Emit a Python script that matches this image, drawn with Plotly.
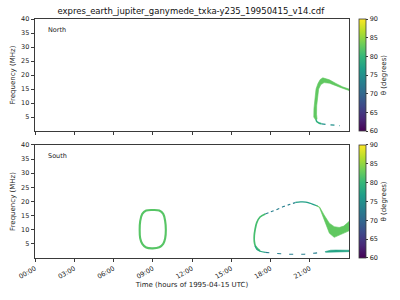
import plotly.graph_objects as go
from plotly.colors import sample_colorscale

# ---------------- data (hours of day, frequency MHz, theta degrees) ----------------
title = "expres_earth_jupiter_ganymede_txka-y235_19950415_v14.cdf"
tick_hours = [0, 3, 6, 9, 12, 15, 18, 21]
tick_labels = ["00:00", "03:00", "06:00", "09:00", "12:00", "15:00", "18:00", "21:00"]
freq_ticks = [5, 10, 15, 20, 25, 30, 35, 40]
theta_ticks = [60, 65, 70, 75, 80, 85, 90]

# North hemisphere: thick arc (band outline: outer edge then inner edge)
north_band_t = [21.45, 21.31, 21.32, 21.36, 21.48, 21.63, 21.8, 22.0, 22.5, 23.0, 23.5, 24.0,
                24.0, 23.5, 23.0, 22.5, 22.1, 21.85, 21.68, 21.58, 21.53, 21.52, 21.56]
north_band_f = [4.0, 5.0, 8.0, 10.0, 15.0, 17.0, 18.4, 19.0, 18.3, 17.0, 15.8, 15.0,
                14.5, 15.3, 16.2, 17.1, 17.3, 16.6, 15.0, 12.0, 9.0, 6.0, 4.2]
north_band_theta = 82.5
north_tail_t = [21.48, 21.55, 21.7, 21.9]
north_tail_f = [4.2, 3.3, 2.9, 2.6]
north_tail_theta = 79
north_dash_t = [21.9, 22.4, 22.9, 23.3]
north_dash_f = [2.6, 2.3, 2.1, 1.95]
north_dash_theta = 75

# South hemisphere: closed oval around 09:00
south_oval_t = [8.0, 8.04, 8.2, 8.5, 9.0, 9.5, 9.8, 9.95, 10.0, 9.95, 9.8, 9.5, 9.0, 8.5, 8.2, 8.04, 8.0]
south_oval_f = [10.0, 13.0, 15.6, 16.8, 17.0, 16.8, 15.6, 13.0, 10.0, 7.0, 5.0, 3.8, 3.4, 3.7, 5.0, 7.0, 10.0]
south_oval_theta = 82

# South hemisphere: evening arc
south_left_t = [17.2, 16.84, 16.76, 16.76, 16.82, 16.95, 17.2, 17.6]
south_left_f = [2.5, 4.3, 6.0, 8.0, 10.0, 12.5, 14.5, 15.6]
south_left_theta = 81
south_rise_t = [17.6, 18.0, 18.5, 19.0, 19.5, 19.9]
south_rise_f = [15.6, 16.3, 17.2, 18.2, 19.0, 19.6]
south_rise_theta = 73
south_top_t = [19.9, 20.3, 20.7, 21.0, 21.3, 21.6]
south_top_f = [19.7, 19.85, 19.8, 19.4, 18.9, 18.4]
south_top_theta = 77
south_band_t = [21.5, 21.76, 22.1, 22.5, 22.87, 23.25, 23.6, 24.0,
                24.0, 23.6, 23.25, 22.87, 22.5, 22.25, 22.0, 21.74, 21.5]
south_band_f = [18.6, 18.0, 15.2, 12.3, 11.1, 10.8, 11.3, 12.9,
                9.6, 8.8, 8.2, 7.3, 8.8, 11.7, 15.2, 17.9, 18.5]
south_band_theta = 82.5
south_curl_t = [16.82, 16.95, 17.2, 17.6]
south_curl_f = [4.3, 3.1, 2.4, 2.0]
south_curl_theta = 78
south_bottom_t = [17.6, 18.2, 18.8, 19.4, 20.0, 20.6, 21.1, 21.6, 22.2]
south_bottom_f = [2.0, 1.7, 1.5, 1.35, 1.3, 1.35, 1.6, 1.85, 2.3]
south_bottom_theta = 73
south_low_band_t = [22.2, 22.6, 23.0, 23.5, 24.0, 24.0, 23.5, 23.0, 22.6, 22.2]
south_low_band_f = [2.3, 2.75, 2.8, 2.8, 2.75, 2.25, 2.25, 2.25, 2.2, 2.0]
south_low_band_theta = 77.5

THETA_MIN, THETA_MAX = 60, 90


def col(theta):
    return sample_colorscale("Viridis", [(theta - THETA_MIN) / (THETA_MAX - THETA_MIN)])[0]


fig = go.Figure()


def band(t, f, theta, row):
    fig.add_trace(go.Scatter(x=t, y=f, mode="lines", fill="toself", fillcolor=col(theta),
                             line=dict(width=0.6, color=col(theta)), hoverinfo="skip",
                             showlegend=False, xaxis="x" if row == 1 else "x2",
                             yaxis="y" if row == 1 else "y2"))


def curve(t, f, theta, row, width=1.5, dash="solid"):
    fig.add_trace(go.Scatter(x=t, y=f, mode="lines",
                             line=dict(width=width, color=col(theta), dash=dash, shape="spline"),
                             hoverinfo="skip", showlegend=False,
                             xaxis="x" if row == 1 else "x2", yaxis="y" if row == 1 else "y2"))


# North
band(north_band_t, north_band_f, north_band_theta, 1)
curve(north_tail_t, north_tail_f, north_tail_theta, 1, width=1.6)
curve(north_dash_t, north_dash_f, north_dash_theta, 1, width=1.2, dash="4px,5px")

# South
curve(south_oval_t, south_oval_f, south_oval_theta, 2, width=2.1)
curve(south_left_t, south_left_f, south_left_theta, 2, width=1.7)
curve(south_rise_t, south_rise_f, south_rise_theta, 2, width=1.1, dash="3px,3px")
curve(south_top_t, south_top_f, south_top_theta, 2, width=1.2)
band(south_band_t, south_band_f, south_band_theta, 2)
curve(south_curl_t, south_curl_f, south_curl_theta, 2, width=1.2)
curve(south_bottom_t, south_bottom_f, south_bottom_theta, 2, width=1.1, dash="4px,8px")
band(south_low_band_t, south_low_band_f, south_low_band_theta, 2)

# colour bars (invisible carriers)
for ax, ca, ya in (("x", "coloraxis", "y"), ("x2", "coloraxis2", "y2")):
    fig.add_trace(go.Scatter(x=[1, 2], y=[-50, -50], mode="markers",
                             marker=dict(color=[THETA_MIN, THETA_MAX], coloraxis=ca, size=1),
                             hoverinfo="skip", showlegend=False, xaxis=ax, yaxis=ya))

axis_line = "#3a3a3a"
tickfont = dict(family="DejaVu Sans", size=6.5, color="#222")
top_dom = [0.531, 1.0]
bot_dom = [0.0, 0.473]

common_x = dict(range=[0, 24], tickvals=tick_hours, showline=True, linecolor=axis_line, linewidth=0.8,
                mirror=True, ticks="outside", ticklen=3.5, tickwidth=0.8, tickcolor=axis_line,
                showgrid=False, zeroline=False, tickfont=tickfont)
common_y = dict(range=[0, 40], tickvals=freq_ticks, showline=True, linecolor=axis_line, linewidth=0.8,
                mirror=True, ticks="outside", ticklen=3.5, tickwidth=0.8, tickcolor=axis_line,
                showgrid=False, zeroline=False, tickfont=tickfont,
                title=dict(text="Frequency (MHz)", font=dict(family="DejaVu Sans", size=7, color="#222"),
                           standoff=4))

cb_common = dict(thickness=7, thicknessmode="pixels", lenmode="fraction", xanchor="left",
                 x=1.031, yanchor="middle", xpad=0, ypad=0, outlinewidth=0.8, outlinecolor=axis_line,
                 tickvals=theta_ticks, ticks="outside", ticklen=2.5, tickwidth=0.8, tickcolor=axis_line,
                 tickfont=tickfont,
                 title=dict(text="θ (degrees)", side="right",
                            font=dict(family="DejaVu Sans", size=7, color="#222")))

fig.update_layout(
    width=400, height=300,
    margin=dict(l=32, r=50, t=19, b=38),
    paper_bgcolor="white", plot_bgcolor="white",
    title=dict(text=title, x=0.477, xanchor="center", y=0.963, yanchor="middle",
               font=dict(family="DejaVu Sans", size=8.5, color="#111")),
    xaxis=dict(domain=[0, 1], anchor="y", showticklabels=False, **common_x),
    yaxis=dict(domain=top_dom, anchor="x", **common_y),
    xaxis2=dict(domain=[0, 1], anchor="y2", ticktext=tick_labels, tickangle=-30,
                title=dict(text="Time (hours of 1995-04-15 UTC)",
                           font=dict(family="DejaVu Sans", size=7, color="#222"), standoff=2),
                **common_x),
    yaxis2=dict(domain=bot_dom, anchor="x2", **common_y),
    coloraxis=dict(colorscale="Viridis", cmin=THETA_MIN, cmax=THETA_MAX,
                   colorbar=dict(len=top_dom[1] - top_dom[0], y=(top_dom[0] + top_dom[1]) / 2, **cb_common)),
    coloraxis2=dict(colorscale="Viridis", cmin=THETA_MIN, cmax=THETA_MAX,
                    colorbar=dict(len=bot_dom[1] - bot_dom[0], y=(bot_dom[0] + bot_dom[1]) / 2, **cb_common)),
    annotations=[
        dict(text="North", x=0.035, y=0.955, xref="paper", yref="paper", xanchor="left", yanchor="middle",
             showarrow=False, font=dict(family="DejaVu Sans", size=6.5, color="#222")),
        dict(text="South", x=0.035, y=0.425, xref="paper", yref="paper", xanchor="left", yanchor="middle",
             showarrow=False, font=dict(family="DejaVu Sans", size=6.5, color="#222")),
    ],
)

fig.write_html("out.html")
